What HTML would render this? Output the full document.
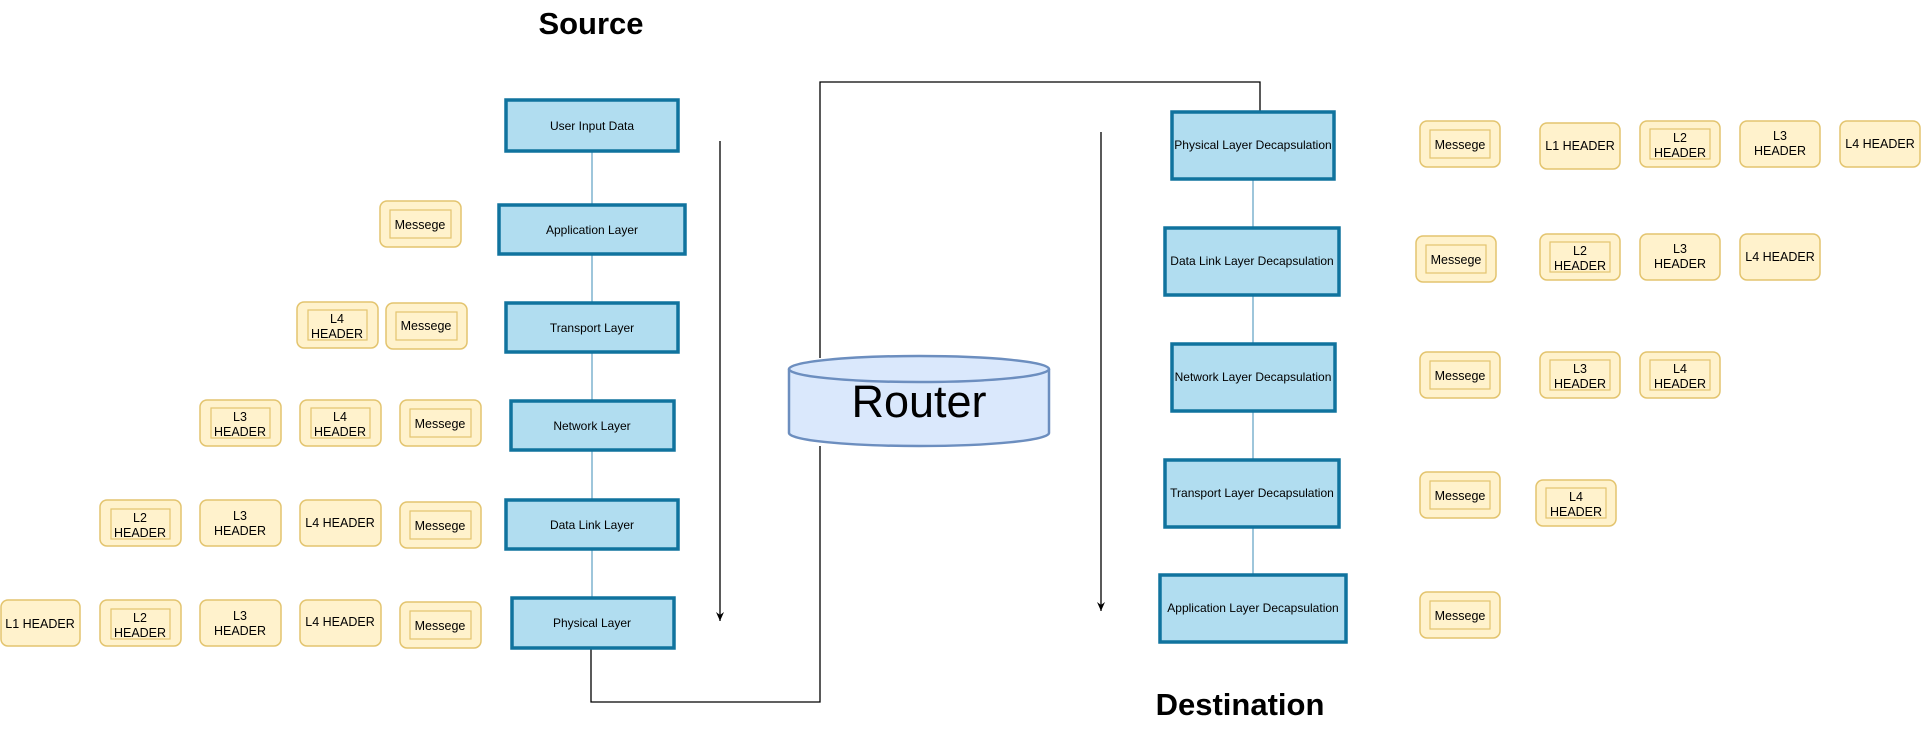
<!DOCTYPE html>
<html><head><meta charset="utf-8"><style>
html,body{margin:0;padding:0;background:#fff;}
svg{display:block;font-family:"Liberation Sans",Arial,sans-serif;}
</style></head><body>
<svg width="1922" height="730" viewBox="0 0 1922 730" xmlns="http://www.w3.org/2000/svg">
<defs>
<marker id="ah" markerWidth="12" markerHeight="12" refX="9" refY="5" orient="auto" markerUnits="userSpaceOnUse">
<path d="M0,1 L9,5 L0,9 L3,5 Z" fill="#000"/>
</marker>
</defs>
<text x="591" y="34" font-size="31" font-weight="bold" text-anchor="middle">Source</text>
<text x="1240" y="715" font-size="31" font-weight="bold" text-anchor="middle">Destination</text>

<line x1="592" y1="151" x2="592" y2="597" stroke="#7fb3cf" stroke-width="1.5"/>
<line x1="1253" y1="179" x2="1253" y2="575" stroke="#7fb3cf" stroke-width="1.5"/>

<polyline points="591,649 591,702 820,702 820,446" fill="none" stroke="#000" stroke-width="1.3"/>
<polyline points="820,358 820,82 1260,82 1260,112" fill="none" stroke="#000" stroke-width="1.3"/>

<line x1="720" y1="141" x2="720" y2="621" stroke="#000" stroke-width="1.3" marker-end="url(#ah)"/>
<line x1="1101" y1="132" x2="1101" y2="611" stroke="#000" stroke-width="1.3" marker-end="url(#ah)"/>

<path d="M789,369 L789,433 A130,13 0 0 0 1049,433 L1049,369" fill="#dae8fc" stroke="#6c8ebf" stroke-width="2.5"/>
<ellipse cx="919" cy="369" rx="130" ry="13" fill="#dae8fc" stroke="#6c8ebf" stroke-width="2.5"/>
<text x="919" y="417" font-size="45" text-anchor="middle">Router</text>

<g fill="#b1ddf0" stroke="#10739e" stroke-width="3.5">
<rect x="506" y="100" width="172" height="51"/>
<rect x="499" y="205" width="186" height="49"/>
<rect x="506" y="303" width="172" height="49"/>
<rect x="511" y="401" width="163" height="49"/>
<rect x="506" y="500" width="172" height="49"/>
<rect x="512" y="598" width="162" height="50"/>
<rect x="1172" y="112" width="162" height="67"/>
<rect x="1165" y="228" width="174" height="67"/>
<rect x="1172" y="344" width="163" height="67"/>
<rect x="1165" y="460" width="174" height="67"/>
<rect x="1160" y="575" width="186" height="67"/>
</g>
<g font-size="12" text-anchor="middle" fill="#000">
<text x="592" y="130">User Input Data</text>
<text x="592" y="234">Application Layer</text>
<text x="592" y="332">Transport Layer</text>
<text x="592" y="430">Network Layer</text>
<text x="592" y="529">Data Link Layer</text>
<text x="592" y="627">Physical Layer</text>
<text x="1253" y="149">Physical Layer Decapsulation</text>
<text x="1252" y="265">Data Link Layer Decapsulation</text>
<text x="1253" y="381">Network Layer Decapsulation</text>
<text x="1252" y="497">Transport Layer Decapsulation</text>
<text x="1253" y="612">Application Layer Decapsulation</text>
</g>

<g font-size="12.5" text-anchor="middle">
<g><rect x="380" y="201" width="81" height="46" rx="7" fill="#fff2cc" stroke="#e3c46e" stroke-width="1.5"/><rect x="390" y="210" width="61" height="28" fill="#fff2cc" stroke="#e3c46e" stroke-width="1.2"/><text x="420" y="229">Messege</text></g>
<g><rect x="297" y="302" width="81" height="46" rx="7" fill="#fff2cc" stroke="#e3c46e" stroke-width="1.5"/><rect x="308" y="310" width="59" height="30" fill="#fff2cc" stroke="#e3c46e" stroke-width="1.2"/><text x="337" y="323">L4</text><text x="337" y="338">HEADER</text></g>
<g><rect x="386" y="303" width="81" height="46" rx="7" fill="#fff2cc" stroke="#e3c46e" stroke-width="1.5"/><rect x="396" y="312" width="61" height="28" fill="#fff2cc" stroke="#e3c46e" stroke-width="1.2"/><text x="426" y="330">Messege</text></g>
<g><rect x="200" y="400" width="81" height="46" rx="7" fill="#fff2cc" stroke="#e3c46e" stroke-width="1.5"/><rect x="211" y="408" width="59" height="30" fill="#fff2cc" stroke="#e3c46e" stroke-width="1.2"/><text x="240" y="421">L3</text><text x="240" y="436">HEADER</text></g>
<g><rect x="300" y="400" width="81" height="46" rx="7" fill="#fff2cc" stroke="#e3c46e" stroke-width="1.5"/><rect x="311" y="408" width="59" height="30" fill="#fff2cc" stroke="#e3c46e" stroke-width="1.2"/><text x="340" y="421">L4</text><text x="340" y="436">HEADER</text></g>
<g><rect x="400" y="400" width="81" height="46" rx="7" fill="#fff2cc" stroke="#e3c46e" stroke-width="1.5"/><rect x="410" y="409" width="61" height="28" fill="#fff2cc" stroke="#e3c46e" stroke-width="1.2"/><text x="440" y="428">Messege</text></g>
<g><rect x="100" y="500" width="81" height="46" rx="7" fill="#fff2cc" stroke="#e3c46e" stroke-width="1.5"/><rect x="111" y="509" width="59" height="30" fill="#fff2cc" stroke="#e3c46e" stroke-width="1.2"/><text x="140" y="522">L2</text><text x="140" y="537">HEADER</text></g>
<g><rect x="200" y="500" width="81" height="46" rx="7" fill="#fff2cc" stroke="#e3c46e" stroke-width="1.5"/><text x="240" y="520">L3</text><text x="240" y="535">HEADER</text></g>
<g><rect x="300" y="500" width="81" height="46" rx="7" fill="#fff2cc" stroke="#e3c46e" stroke-width="1.5"/><text x="340" y="527">L4 HEADER</text></g>
<g><rect x="400" y="502" width="81" height="46" rx="7" fill="#fff2cc" stroke="#e3c46e" stroke-width="1.5"/><rect x="410" y="511" width="61" height="28" fill="#fff2cc" stroke="#e3c46e" stroke-width="1.2"/><text x="440" y="530">Messege</text></g>
<g><rect x="1" y="600" width="79" height="46" rx="7" fill="#fff2cc" stroke="#e3c46e" stroke-width="1.5"/><text x="40" y="628">L1 HEADER</text></g>
<g><rect x="100" y="600" width="81" height="46" rx="7" fill="#fff2cc" stroke="#e3c46e" stroke-width="1.5"/><rect x="111" y="609" width="59" height="30" fill="#fff2cc" stroke="#e3c46e" stroke-width="1.2"/><text x="140" y="622">L2</text><text x="140" y="637">HEADER</text></g>
<g><rect x="200" y="600" width="81" height="46" rx="7" fill="#fff2cc" stroke="#e3c46e" stroke-width="1.5"/><text x="240" y="620">L3</text><text x="240" y="635">HEADER</text></g>
<g><rect x="300" y="600" width="81" height="46" rx="7" fill="#fff2cc" stroke="#e3c46e" stroke-width="1.5"/><text x="340" y="626">L4 HEADER</text></g>
<g><rect x="400" y="602" width="81" height="46" rx="7" fill="#fff2cc" stroke="#e3c46e" stroke-width="1.5"/><rect x="410" y="611" width="61" height="28" fill="#fff2cc" stroke="#e3c46e" stroke-width="1.2"/><text x="440" y="630">Messege</text></g>

<g><rect x="1420" y="121" width="80" height="46" rx="7" fill="#fff2cc" stroke="#e3c46e" stroke-width="1.5"/><rect x="1430" y="130" width="60" height="28" fill="#fff2cc" stroke="#e3c46e" stroke-width="1.2"/><text x="1460" y="149">Messege</text></g>
<g><rect x="1540" y="123" width="80" height="46" rx="7" fill="#fff2cc" stroke="#e3c46e" stroke-width="1.5"/><text x="1580" y="150">L1 HEADER</text></g>
<g><rect x="1640" y="121" width="80" height="46" rx="7" fill="#fff2cc" stroke="#e3c46e" stroke-width="1.5"/><rect x="1650" y="129" width="60" height="30" fill="#fff2cc" stroke="#e3c46e" stroke-width="1.2"/><text x="1680" y="142">L2</text><text x="1680" y="157">HEADER</text></g>
<g><rect x="1740" y="121" width="80" height="46" rx="7" fill="#fff2cc" stroke="#e3c46e" stroke-width="1.5"/><text x="1780" y="140">L3</text><text x="1780" y="155">HEADER</text></g>
<g><rect x="1840" y="121" width="80" height="46" rx="7" fill="#fff2cc" stroke="#e3c46e" stroke-width="1.5"/><text x="1880" y="148">L4 HEADER</text></g>

<g><rect x="1416" y="236" width="80" height="46" rx="7" fill="#fff2cc" stroke="#e3c46e" stroke-width="1.5"/><rect x="1426" y="245" width="60" height="28" fill="#fff2cc" stroke="#e3c46e" stroke-width="1.2"/><text x="1456" y="264">Messege</text></g>
<g><rect x="1540" y="234" width="80" height="46" rx="7" fill="#fff2cc" stroke="#e3c46e" stroke-width="1.5"/><rect x="1550" y="242" width="60" height="30" fill="#fff2cc" stroke="#e3c46e" stroke-width="1.2"/><text x="1580" y="255">L2</text><text x="1580" y="270">HEADER</text></g>
<g><rect x="1640" y="234" width="80" height="46" rx="7" fill="#fff2cc" stroke="#e3c46e" stroke-width="1.5"/><text x="1680" y="253">L3</text><text x="1680" y="268">HEADER</text></g>
<g><rect x="1740" y="234" width="80" height="46" rx="7" fill="#fff2cc" stroke="#e3c46e" stroke-width="1.5"/><text x="1780" y="261">L4 HEADER</text></g>

<g><rect x="1420" y="352" width="80" height="46" rx="7" fill="#fff2cc" stroke="#e3c46e" stroke-width="1.5"/><rect x="1430" y="361" width="60" height="28" fill="#fff2cc" stroke="#e3c46e" stroke-width="1.2"/><text x="1460" y="380">Messege</text></g>
<g><rect x="1540" y="352" width="80" height="46" rx="7" fill="#fff2cc" stroke="#e3c46e" stroke-width="1.5"/><rect x="1550" y="360" width="60" height="30" fill="#fff2cc" stroke="#e3c46e" stroke-width="1.2"/><text x="1580" y="373">L3</text><text x="1580" y="388">HEADER</text></g>
<g><rect x="1640" y="352" width="80" height="46" rx="7" fill="#fff2cc" stroke="#e3c46e" stroke-width="1.5"/><rect x="1650" y="360" width="60" height="30" fill="#fff2cc" stroke="#e3c46e" stroke-width="1.2"/><text x="1680" y="373">L4</text><text x="1680" y="388">HEADER</text></g>

<g><rect x="1420" y="472" width="80" height="46" rx="7" fill="#fff2cc" stroke="#e3c46e" stroke-width="1.5"/><rect x="1430" y="481" width="60" height="28" fill="#fff2cc" stroke="#e3c46e" stroke-width="1.2"/><text x="1460" y="500">Messege</text></g>
<g><rect x="1536" y="480" width="80" height="46" rx="7" fill="#fff2cc" stroke="#e3c46e" stroke-width="1.5"/><rect x="1546" y="488" width="60" height="30" fill="#fff2cc" stroke="#e3c46e" stroke-width="1.2"/><text x="1576" y="501">L4</text><text x="1576" y="516">HEADER</text></g>

<g><rect x="1420" y="592" width="80" height="46" rx="7" fill="#fff2cc" stroke="#e3c46e" stroke-width="1.5"/><rect x="1430" y="601" width="60" height="28" fill="#fff2cc" stroke="#e3c46e" stroke-width="1.2"/><text x="1460" y="620">Messege</text></g>
</g>
</svg>
</body></html>
